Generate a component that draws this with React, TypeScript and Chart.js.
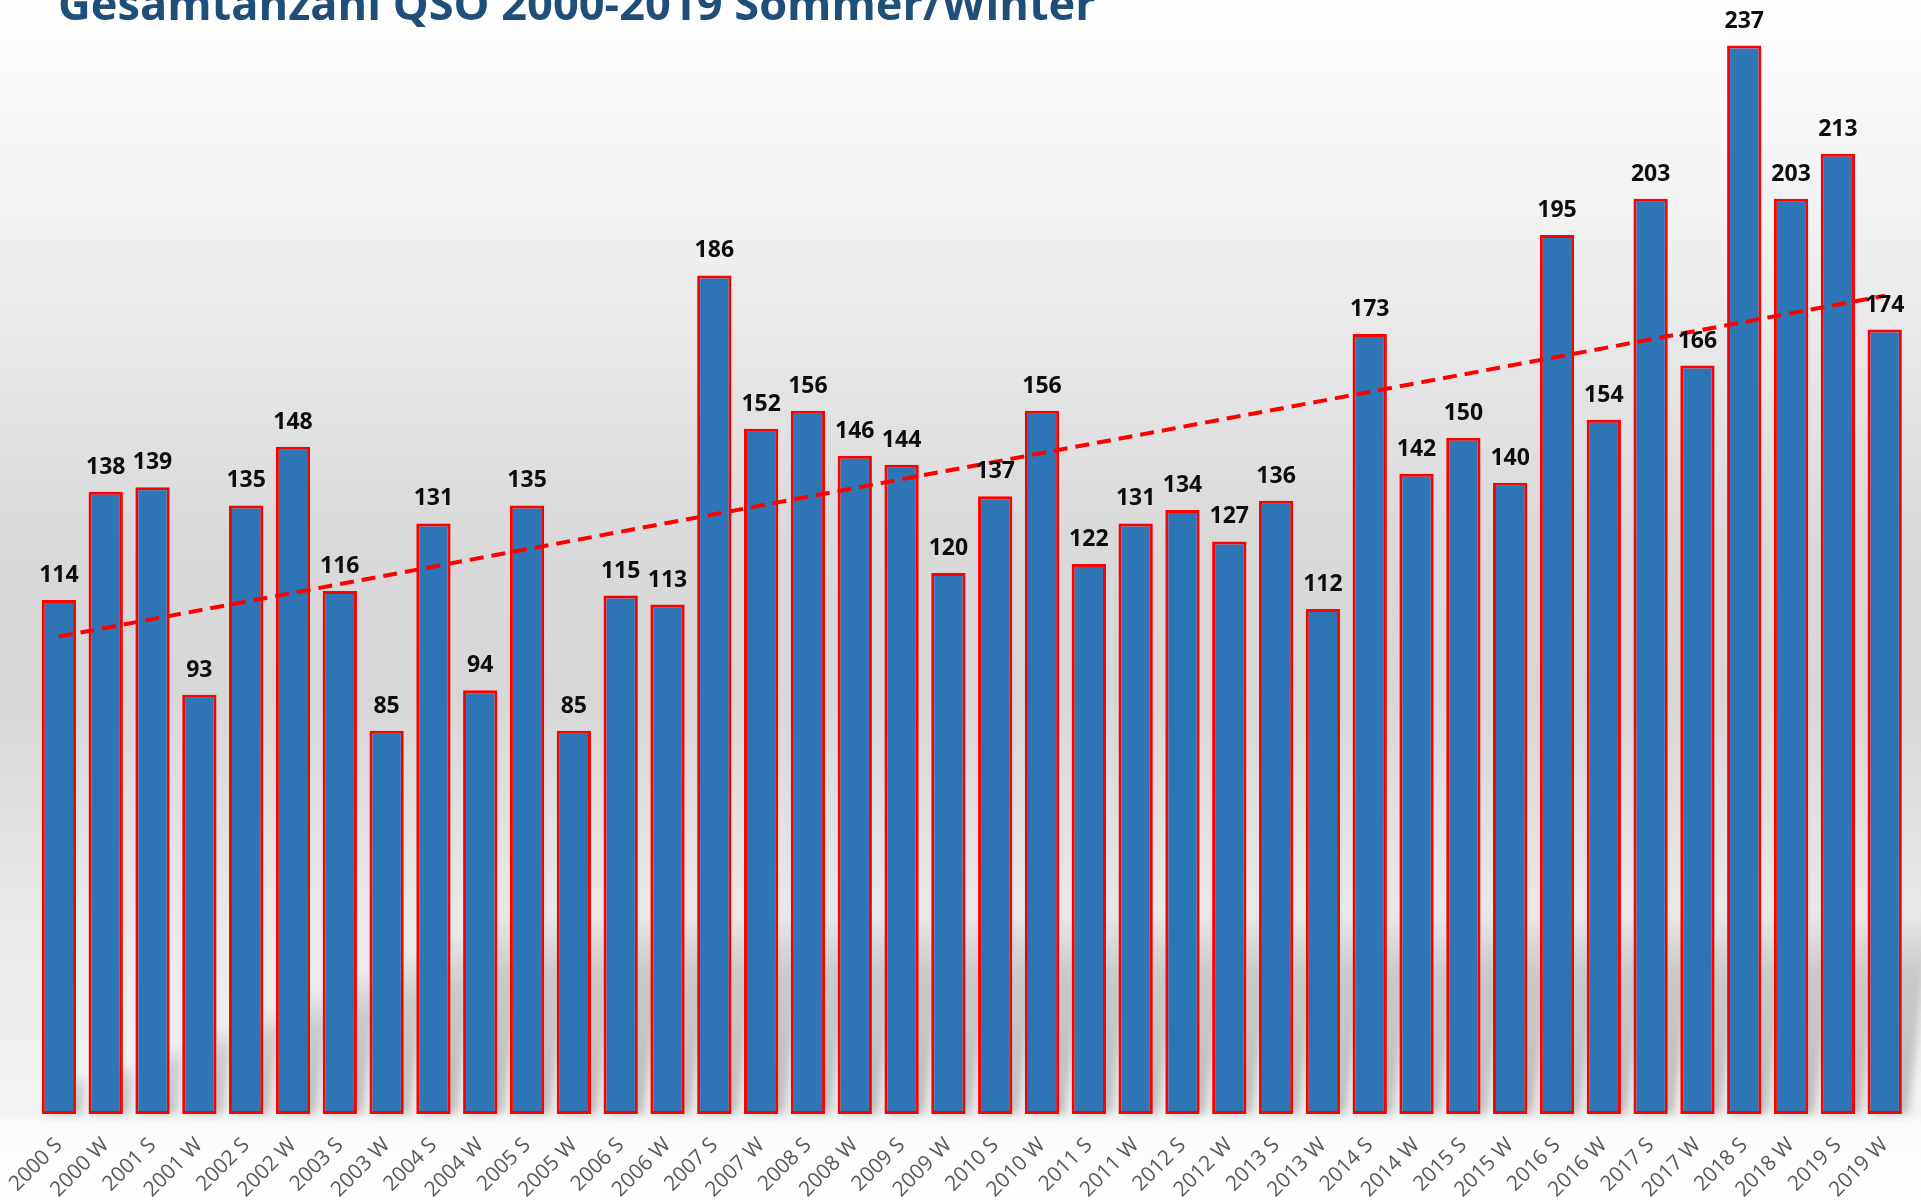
import React, { useEffect, useRef } from "react";
import { Chart, registerables } from "chart.js";

Chart.register(...registerables);

const chartTitle = "Gesamtanzahl QSO 2000-2019 Sommer/Winter";

const categories = [
  "2000 S", "2000 W", "2001 S", "2001 W", "2002 S", "2002 W", "2003 S", "2003 W",
  "2004 S", "2004 W", "2005 S", "2005 W", "2006 S", "2006 W", "2007 S", "2007 W",
  "2008 S", "2008 W", "2009 S", "2009 W", "2010 S", "2010 W", "2011 S", "2011 W",
  "2012 S", "2012 W", "2013 S", "2013 W", "2014 S", "2014 W", "2015 S", "2015 W",
  "2016 S", "2016 W", "2017 S", "2017 W", "2018 S", "2018 W", "2019 S", "2019 W",
];

const qsoCounts = [
  114, 138, 139, 93, 135, 148, 116, 85,
  131, 94, 135, 85, 115, 113, 186, 152,
  156, 146, 144, 120, 137, 156, 122, 131,
  134, 127, 136, 112, 173, 142, 150, 140,
  195, 154, 203, 166, 237, 203, 213, 174,
];

// linear trend line, read at its two ends
const trendStart = 105.9;
const trendEnd = 181.5;

const yMin = 0;
const yMax = 247.1;

const backgroundPlugin = {
  id: "bgPlugin",
  beforeDraw(chart: any) {
    const { ctx, width, height } = chart;
    ctx.save();
    const g = ctx.createLinearGradient(0, 0, 0, height);
    g.addColorStop(0, "#ffffff");
    g.addColorStop(0.17, "#f2f2f2");
    g.addColorStop(0.45, "#d9d9d9");
    g.addColorStop(0.58, "#d7d7d7");
    g.addColorStop(0.76, "#e8e8e8");
    g.addColorStop(0.925, "#f3f3f3");
    g.addColorStop(0.935, "#fbfbfb");
    g.addColorStop(1, "#ffffff");
    ctx.fillStyle = g;
    ctx.fillRect(0, 0, width, height);

    // title (cut at the top as in the reference)
    ctx.font = 'bold 100px "Open Sans"';
    const w = ctx.measureText(chartTitle).width;
    const size = (100 * 1038) / w;
    ctx.font = `bold ${size}px "Open Sans"`;
    ctx.fillStyle = "#1F4E79";
    ctx.textAlign = "left";
    ctx.textBaseline = "alphabetic";
    ctx.fillText(chartTitle, 58, 20);
    ctx.restore();
  },
  beforeDatasetsDraw(chart: any) {
    const { ctx } = chart;
    const meta = chart.getDatasetMeta(1);
    if (!meta || !meta.data) return;
    ctx.save();
    ctx.filter = "blur(4px)";
    meta.data.forEach((el: any) => {
      const p = el.getProps(["x", "base", "width"], true);
      const left = p.x - p.width / 2;
      const right = p.x + p.width / 2;
      const S = Math.min(200, 40 + Math.max(0, p.x - 80) * 0.4);
      const sk = S * 0.12;
      const g = ctx.createLinearGradient(0, p.base, 0, p.base - S);
      g.addColorStop(0, "rgba(0,0,0,0.22)");
      g.addColorStop(0.7, "rgba(0,0,0,0.14)");
      g.addColorStop(1, "rgba(0,0,0,0)");
      ctx.fillStyle = g;
      ctx.beginPath();
      ctx.moveTo(left + 4, p.base);
      ctx.lineTo(right + 6, p.base);
      ctx.lineTo(right + 6 + sk, p.base - S);
      ctx.lineTo(left + 4 + sk, p.base - S);
      ctx.closePath();
      ctx.fill();
    });
    ctx.restore();
  },
};

const valueLabelPlugin = {
  id: "valueLabels",
  afterDatasetsDraw(chart: any) {
    const { ctx } = chart;
    const meta = chart.getDatasetMeta(1);
    ctx.save();
    ctx.font = 'bold 23px "Open Sans"';
    ctx.fillStyle = "#0d0d0d";
    ctx.textAlign = "center";
    ctx.textBaseline = "alphabetic";
    meta.data.forEach((el: any, i: number) => {
      const p = el.getProps(["x", "y"], true);
      ctx.fillText(String(qsoCounts[i]), p.x, p.y - 18);
    });
    ctx.restore();
  },
};

export default function App() {
  const canvasRef = useRef<HTMLCanvasElement | null>(null);

  useEffect(() => {
    if (!canvasRef.current) return;
    const n = categories.length;
    const trendData = categories.map((_, i) =>
      i === 0 ? trendStart : i === n - 1 ? trendEnd : null
    );
    const chart = new Chart(canvasRef.current, {
      type: "bar",
      data: {
        labels: categories,
        datasets: [
          {
            type: "line",
            label: "Trend",
            data: trendData as any,
            borderColor: "#FF0000",
            borderWidth: 4,
            borderDash: [14, 8],
            pointRadius: 0,
            spanGaps: true,
            fill: false,
            order: 0,
          } as any,
          {
            type: "bar",
            label: "QSO",
            data: qsoCounts,
            backgroundColor: "#2E75B6",
            borderColor: "#FF0000",
            borderWidth: 3,
            borderSkipped: false,
            categoryPercentage: 1,
            barPercentage: 0.733,
            order: 1,
          } as any,
        ],
      },
      options: {
        responsive: false,
        animation: false,
        layout: { padding: { left: 35.5, right: 12.9, top: 0, bottom: 0 } },
        plugins: {
          legend: { display: false },
          tooltip: { enabled: false },
          title: { display: false },
        },
        scales: {
          x: {
            grid: { display: false, drawTicks: false },
            border: { display: false },
            ticks: {
              color: "#595959",
              font: { family: "Open Sans", size: 21 },
              minRotation: 45,
              maxRotation: 45,
              padding: 19,
              autoSkip: false,
            },
            afterFit: (scale: any) => {
              scale.height = 88;
              scale.paddingLeft = 0;
              scale.paddingRight = 0;
            },
          },
          y: {
            display: false,
            min: yMin,
            max: yMax,
          },
        },
      },
      plugins: [backgroundPlugin, valueLabelPlugin],
    });
    return () => chart.destroy();
  }, []);

  return (
    <div style={{ position: "fixed", left: 0, top: 0, width: 1921, height: 1202, overflow: "hidden" }}>
      <canvas ref={canvasRef} width={1921} height={1202} style={{ display: "block", width: 1921, height: 1202 }} />
    </div>
  );
}
